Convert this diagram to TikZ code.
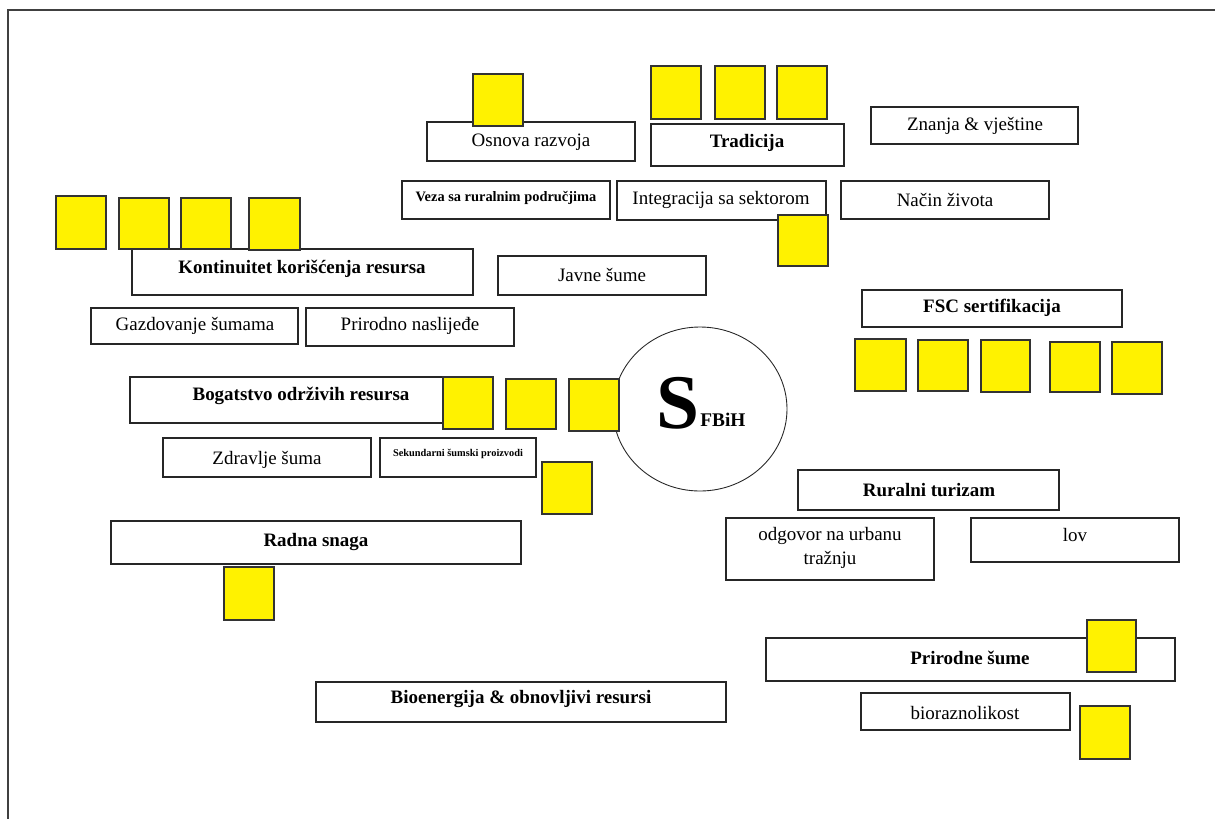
\documentclass[tikz,border=0pt]{standalone}
\usepackage{fontspec}
\setmainfont{Liberation Serif}
\tikzset{
  okvir/.style={draw=black!85, line width=1.1pt},
  kvadrat/.style={draw=black!80, line width=0.9pt, fill=yellow},
  obicno/.style={font=\fontsize{10.8}{14}\selectfont, inner sep=0pt, yshift=-1pt},
  podebljano/.style={font=\bfseries\fontsize{10.8}{14}\selectfont, inner sep=0pt, yshift=-1pt}
}
\begin{document}
\begin{tikzpicture}[x=0.02cm, y=-0.02cm]
    \useasboundingbox (0,0) rectangle (1215,819);
    % okvir stranice
    \draw[black!75, line width=1.3pt] (8,819) -- (8,10) -- (1215,10);
    % pravougaonici
    \draw[okvir] (427,122) rectangle (635,161);
    \draw[okvir] (651,124) rectangle (844,166);
    \draw[okvir] (871,107) rectangle (1078,144);
    \draw[okvir] (402,181) rectangle (610,219);
    \draw[okvir] (617,181) rectangle (826,220);
    \draw[okvir] (841,181) rectangle (1049,219);
    \draw[okvir] (132,249) rectangle (473,295);
    \draw[okvir] (498,256) rectangle (706,295);
    \draw[okvir] (91,308) rectangle (298,344);
    \draw[okvir] (306,308) rectangle (514,346);
    \draw[okvir] (862,290) rectangle (1122,327);
    \draw[okvir] (130,377) rectangle (490,423);
    \draw[okvir] (163,438) rectangle (371,477);
    \draw[okvir] (380,438) rectangle (536,477);
    \draw[okvir] (798,470) rectangle (1059,510);
    \draw[okvir] (726,518) rectangle (934,580);
    \draw[okvir] (971,518) rectangle (1179,562);
    \draw[okvir] (111,521) rectangle (521,564);
    \draw[okvir] (766,638) rectangle (1175,681);
    \draw[okvir] (316,682) rectangle (726,722);
    \draw[okvir] (861,693) rectangle (1070,730);
    % tekstovi
    \node[obicno] (osnova) at (531,140) {Osnova razvoja};
    \node[podebljano] (tradicija) at (747,141) {Tradicija};
    \node[podebljano, font=\bfseries\fontsize{8.2}{10}\selectfont] (veza) at (506,196) {Veza sa ruralnim područjima};
    \node[obicno] (znanja) at (975,124) {Znanja \& vještine};
    \node[obicno] (integracija) at (721,198) {Integracija sa sektorom};
    \node[obicno] (nacin) at (945,198) {Način života};
    \node[podebljano] (kontinuitet) at (302,267) {Kontinuitet korišćenja resursa};
    \node[obicno] (javne) at (602,273) {Javne šume};
    \node[obicno] (gazdovanje) at (195,324) {Gazdovanje šumama};
    \node[obicno] (naslijedje) at (410,324) {Prirodno naslijeđe};
    \node[podebljano] (fsc) at (992,306) {FSC sertifikacija};
    \node[podebljano] (bogatstvo) at (301,394) {Bogatstvo održivih resursa};
    \node[obicno] (zdravlje) at (267,458) {Zdravlje šuma};
    \node[podebljano, font=\bfseries\fontsize{5.9}{7}\selectfont] (sekundarni) at (458,452) {Sekundarni šumski proizvodi};
    \node[podebljano] (ruralni) at (929,488) {Ruralni turizam};
    \node[obicno, align=center] (odgovor) at (830,546) {odgovor na urbanu\\tražnju};
    \node[obicno] (lov) at (1075,533) {lov};
    \node[podebljano] (radna) at (316,540) {Radna snaga};
    \node[podebljano] (prirodne) at (970,656) {Prirodne šume};
    \node[podebljano] (bioenergija) at (521,697) {Bioenergija \& obnovljivi resursi};
    \node[obicno] (bioraznolikost) at (965,711) {bioraznolikost};
    % krug u sredini
    \draw[black!85, line width=0.5pt] (700,409) ellipse [x radius=87, y radius=82];
    \node[font=\bfseries\fontsize{44}{44}\selectfont, inner sep=0pt, anchor=base east] (slovo) at (700,428) {S};
    \node[font=\bfseries\fontsize{11}{12}\selectfont, inner sep=0pt, anchor=base west] (fbih) at (700,426) {FBiH};
    % zuti kvadrati
    \draw[kvadrat] (473,74) rectangle (523,126);
    \draw[kvadrat] (651,66) rectangle (701,119);
    \draw[kvadrat] (715,66) rectangle (765,119);
    \draw[kvadrat] (777,66) rectangle (827,119);
    \draw[kvadrat] (56,196) rectangle (106,249);
    \draw[kvadrat] (119,198) rectangle (169,249);
    \draw[kvadrat] (181,198) rectangle (231,249);
    \draw[kvadrat] (249,198) rectangle (300,250);
    \draw[kvadrat] (778,215) rectangle (828,266);
    \draw[kvadrat] (855,339) rectangle (906,391);
    \draw[kvadrat] (918,340) rectangle (968,391);
    \draw[kvadrat] (981,340) rectangle (1030,392);
    \draw[kvadrat] (1050,342) rectangle (1100,392);
    \draw[kvadrat] (1112,342) rectangle (1162,394);
    \draw[kvadrat] (443,377) rectangle (493,429);
    \draw[kvadrat] (506,379) rectangle (556,429);
    \draw[kvadrat] (569,379) rectangle (619,431);
    \draw[kvadrat] (542,462) rectangle (592,514);
    \draw[kvadrat] (224,567) rectangle (274,620);
    \draw[kvadrat] (1087,620) rectangle (1136,672);
    \draw[kvadrat] (1080,706) rectangle (1130,759);
\end{tikzpicture}
\end{document}
